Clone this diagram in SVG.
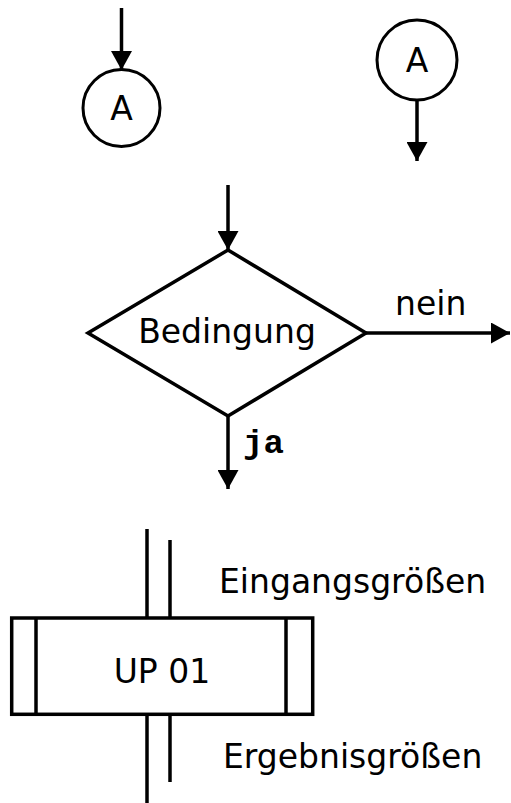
<svg xmlns="http://www.w3.org/2000/svg" width="511" height="803" viewBox="0 0 511 803">
  <style>
    .ln { stroke: #000; stroke-width: 3.5; fill: none; }
    .sh { stroke: #000; stroke-width: 3.5; fill: #fff; }
    .lbl { font-family: "DejaVu Sans", Verdana, sans-serif; font-size: 33px; fill: #000; }
    .mono { font-family: "Liberation Mono", "Courier New", monospace; font-weight: bold; font-size: 34px; fill: #000; }
  </style>
  <defs>
    <marker id="arr" viewBox="0 0 19 21" refX="19" refY="10.5" markerWidth="19" markerHeight="21" markerUnits="userSpaceOnUse" orient="auto">
      <path d="M0,0 L19,10.5 L0,21 Z" fill="#000"/>
    </marker>
  </defs>
  <rect width="511" height="803" fill="#fff"/>

  <g id="connectors">
    <line class="ln" x1="121.5" y1="8" x2="121.5" y2="70" marker-end="url(#arr)"/>
    <line class="ln" x1="417" y1="99" x2="417" y2="161" marker-end="url(#arr)"/>
    <line class="ln" x1="228" y1="185" x2="228" y2="250" marker-end="url(#arr)"/>
    <line class="ln" x1="366" y1="333" x2="510" y2="333" marker-end="url(#arr)"/>
    <line class="ln" x1="228" y1="416" x2="228" y2="489" marker-end="url(#arr)"/>
    <line class="ln" x1="147" y1="529" x2="147" y2="618"/>
    <line class="ln" x1="170" y1="540" x2="170" y2="618"/>
    <line class="ln" x1="147" y1="714" x2="147" y2="803"/>
    <line class="ln" x1="170" y1="714" x2="170" y2="782"/>
  </g>

  <g id="connector-in">
    <circle class="sh" cx="121.5" cy="108" r="38.5" style="stroke-width:3"/>
    <text class="lbl" x="121.5" y="120" text-anchor="middle" font-size="34">A</text>
  </g>

  <g id="connector-out">
    <circle class="sh" cx="417" cy="60" r="40" style="stroke-width:3"/>
    <text class="lbl" x="417" y="72" text-anchor="middle" font-size="34">A</text>
  </g>

  <g id="decision">
    <polygon class="sh" points="228,250 366,333 228,416 88,333"/>
    <text class="lbl" x="227" y="343" text-anchor="middle">Bedingung</text>
    <text class="lbl" x="395" y="315">nein</text>
    <text class="mono" x="243" y="453">ja</text>
  </g>

  <g id="subroutine">
    <rect class="sh" x="11.7" y="618" width="301" height="96.3"/>
    <line class="ln" x1="36" y1="618" x2="36" y2="714.3"/>
    <line class="ln" x1="286" y1="618" x2="286" y2="714.3"/>
    <text class="lbl" x="162" y="683" text-anchor="middle" font-size="38.5">UP 01</text>
    <text class="lbl" x="219" y="593" font-size="33.5">Eingangsgrößen</text>
    <text class="lbl" x="223" y="768" font-size="33.5">Ergebnisgrößen</text>
  </g>
</svg>
